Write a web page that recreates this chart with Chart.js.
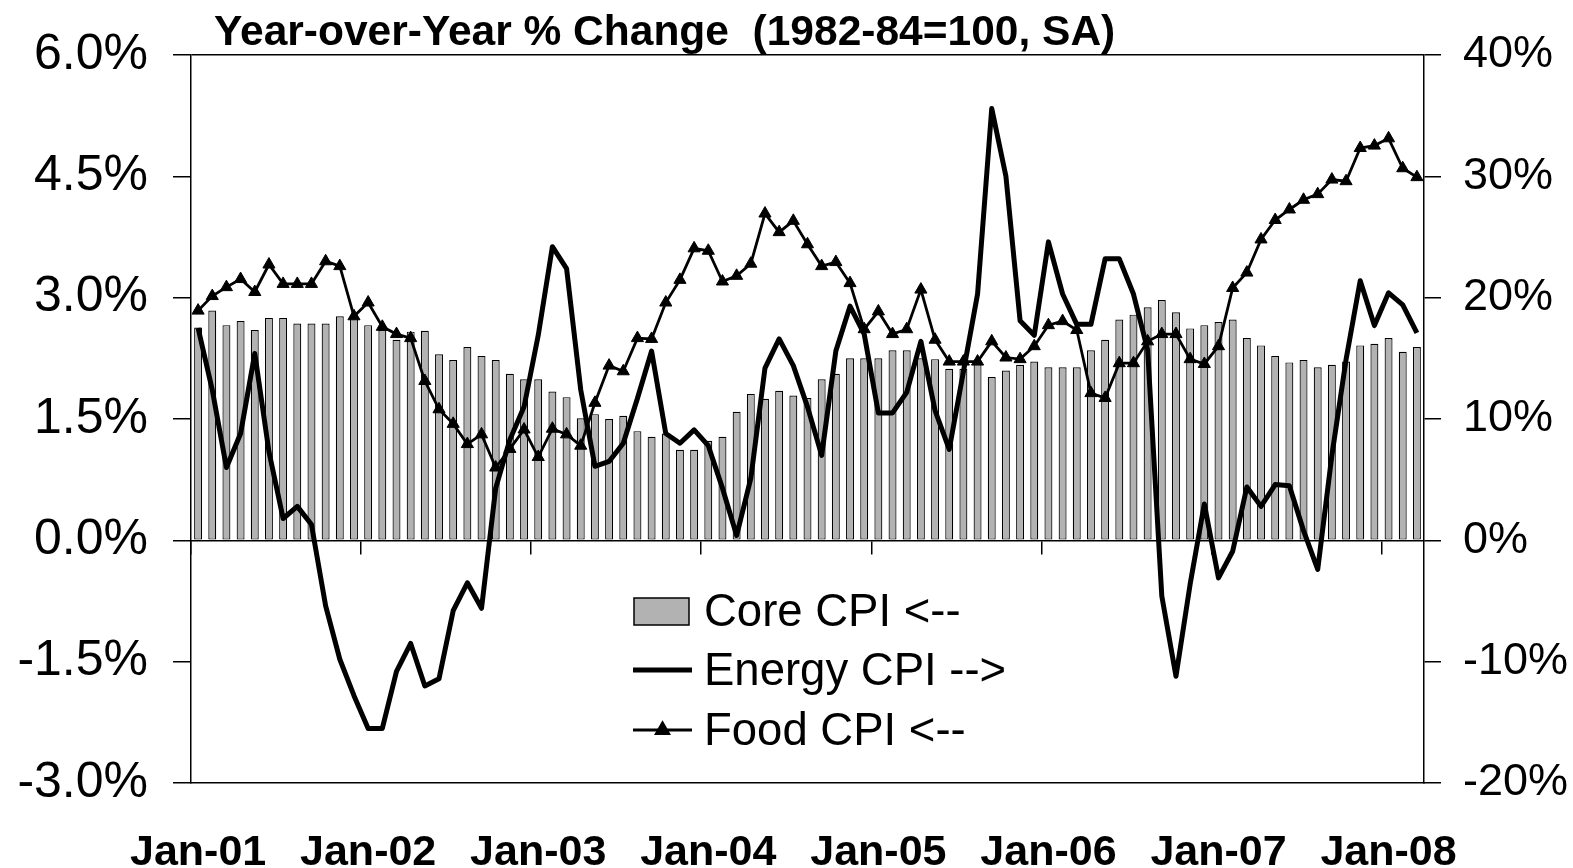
<!DOCTYPE html>
<html>
<head>
<meta charset="utf-8">
<script src="https://cdn.jsdelivr.net/npm/chart.js@4.4.1/dist/chart.umd.min.js"></script>
<style>
  html, body { margin: 0; padding: 0; background: #ffffff; }
  #wrap { width: 1573px; height: 868px; position: relative; }
  canvas { display: block; }
</style>
</head>
<body>
<div id="wrap"><canvas id="c" width="1573" height="868"></canvas></div>
<script>
// ---------------- DATA ----------------
const categories = [
  'Jan-01','Feb-01','Mar-01','Apr-01','May-01','Jun-01','Jul-01','Aug-01','Sep-01','Oct-01','Nov-01','Dec-01',
  'Jan-02','Feb-02','Mar-02','Apr-02','May-02','Jun-02','Jul-02','Aug-02','Sep-02','Oct-02','Nov-02','Dec-02',
  'Jan-03','Feb-03','Mar-03','Apr-03','May-03','Jun-03','Jul-03','Aug-03','Sep-03','Oct-03','Nov-03','Dec-03',
  'Jan-04','Feb-04','Mar-04','Apr-04','May-04','Jun-04','Jul-04','Aug-04','Sep-04','Oct-04','Nov-04','Dec-04',
  'Jan-05','Feb-05','Mar-05','Apr-05','May-05','Jun-05','Jul-05','Aug-05','Sep-05','Oct-05','Nov-05','Dec-05',
  'Jan-06','Feb-06','Mar-06','Apr-06','May-06','Jun-06','Jul-06','Aug-06','Sep-06','Oct-06','Nov-06','Dec-06',
  'Jan-07','Feb-07','Mar-07','Apr-07','May-07','Jun-07','Jul-07','Aug-07','Sep-07','Oct-07','Nov-07','Dec-07',
  'Jan-08','Feb-08','Mar-08'
];

// Core CPI, y/y % (left axis)
const coreCPI = [
  2.63, 2.84, 2.66, 2.71, 2.60, 2.75, 2.75, 2.68, 2.68, 2.68, 2.77, 2.75,
  2.66, 2.60, 2.48, 2.58, 2.59, 2.30, 2.23, 2.39, 2.28, 2.23, 2.06, 1.99,
  1.99, 1.84, 1.77, 1.51, 1.56, 1.50, 1.54, 1.35, 1.28, 1.32, 1.12, 1.12,
  1.23, 1.28, 1.59, 1.81, 1.75, 1.85, 1.79, 1.76, 1.99, 2.06, 2.25, 2.25,
  2.25, 2.35, 2.35, 2.25, 2.24, 2.12, 2.12, 2.19, 2.02, 2.10, 2.17, 2.21,
  2.14, 2.14, 2.14, 2.35, 2.48, 2.73, 2.79, 2.88, 2.97, 2.82, 2.62, 2.66,
  2.70, 2.73, 2.50, 2.41, 2.28, 2.20, 2.23, 2.14, 2.17, 2.21, 2.41, 2.43,
  2.50, 2.33, 2.39
];

// Energy CPI, y/y % (right axis)
const energyCPI = [
  17.5, 12.4, 6.0, 8.8, 15.4, 7.3, 1.8, 2.8, 1.3, -5.4, -9.8, -12.8,
  -15.5, -15.5, -10.8, -8.5, -12.0, -11.4, -5.8, -3.5, -5.6, 4.3, 8.3, 11.0,
  16.9, 24.2, 22.4, 12.4, 6.1, 6.5, 8.0, 11.7, 15.6, 8.8, 8.0, 9.1,
  7.8, 4.3, 0.4, 5.1, 14.2, 16.6, 14.4, 11.0, 7.0, 15.6, 19.3, 17.0,
  10.5, 10.5, 12.2, 16.4, 10.7, 7.5, 13.9, 20.3, 35.6, 30.0, 18.1, 16.9,
  24.6, 20.3, 17.8, 17.8, 23.2, 23.2, 20.3, 15.7, -4.6, -11.2, -3.6, 3.0,
  -3.1, -0.9, 4.4, 2.8, 4.6, 4.5, 0.8, -2.4, 7.0, 14.9, 21.4, 17.7,
  20.4, 19.4, 17.1
];

// Food CPI, y/y % (left axis)
const foodCPI = [
  2.84, 3.02, 3.13, 3.23, 3.07, 3.41, 3.17, 3.17, 3.17, 3.45, 3.39, 2.77,
  2.94, 2.64, 2.55, 2.50, 1.97, 1.62, 1.44, 1.19, 1.31, 0.90, 1.13, 1.37,
  1.03, 1.38, 1.31, 1.17, 1.70, 2.16, 2.09, 2.50, 2.49, 2.94, 3.22, 3.61,
  3.58, 3.20, 3.27, 3.42, 4.04, 3.81, 3.95, 3.66, 3.39, 3.44, 3.18, 2.61,
  2.83, 2.55, 2.61, 3.10, 2.48, 2.21, 2.21, 2.21, 2.46, 2.26, 2.24, 2.40,
  2.66, 2.71, 2.60, 1.82, 1.76, 2.19, 2.19, 2.46, 2.55, 2.55, 2.24, 2.18,
  2.40, 3.12, 3.31, 3.72, 3.96, 4.09, 4.21, 4.28, 4.46, 4.44, 4.85, 4.88,
  4.97, 4.60, 4.49
];

const seriesNames = ['Core CPI <--', 'Energy CPI -->', 'Food CPI <--'];
const xTickLabels = ['Jan-01','Jan-02','Jan-03','Jan-04','Jan-05','Jan-06','Jan-07','Jan-08'];
const leftTickValues = [-3.0, -1.5, 0.0, 1.5, 3.0, 4.5, 6.0];
const rightTickValues = [-20, -10, 0, 10, 20, 30, 40];
const chartTitle = 'Year-over-Year % Change  (1982-84=100, SA)';

// ---------------- STYLE ----------------
const FONT = "'Liberation Sans', Arial, Helvetica, sans-serif";
const BAR_FILL = '#b2b2b2';
const INK = '#000000';

// Title plugin (positioned text above the plot)
const titlePlugin = {
  id: 'titleText',
  afterDraw(chart) {
    const ctx = chart.ctx;
    ctx.save();
    ctx.font = 'bold 42.5px ' + FONT;
    ctx.fillStyle = INK;
    ctx.textAlign = 'left';
    ctx.textBaseline = 'alphabetic';
    ctx.fillText(chartTitle, 214, 45);
    ctx.restore();
  }
};

// Legend plugin (legend placed inside the plot area)
const legendPlugin = {
  id: 'innerLegend',
  afterDatasetsDraw(chart) {
    const ctx = chart.ctx;
    const ds = chart.data.datasets;
    const sx = 634, ex = 691, tx = 704;
    const rows = [611, 670, 730];
    ctx.save();
    // Core CPI swatch
    ctx.fillStyle = ds[0].backgroundColor;
    ctx.strokeStyle = INK;
    ctx.lineWidth = 1.5;
    ctx.fillRect(sx, rows[0] - 13, ex - sx - 2, 27);
    ctx.strokeRect(sx, rows[0] - 13, ex - sx - 2, 27);
    // Energy line
    ctx.beginPath();
    ctx.lineWidth = ds[1].borderWidth;
    ctx.moveTo(sx - 1, rows[1]);
    ctx.lineTo(ex + 1, rows[1]);
    ctx.stroke();
    // Food line + marker
    ctx.beginPath();
    ctx.lineWidth = ds[2].borderWidth;
    ctx.moveTo(sx - 1, rows[2]);
    ctx.lineTo(ex + 1, rows[2]);
    ctx.stroke();
    ctx.fillStyle = INK;
    Chart.helpers.drawPoint(ctx, {pointStyle: 'triangle', radius: ds[2].pointRadius, borderWidth: 1, rotation: 0}, (sx + ex) / 2, rows[2]);
    // Texts
    ctx.font = '45.5px ' + FONT;
    ctx.fillStyle = INK;
    ctx.textAlign = 'left';
    ctx.textBaseline = 'middle';
    for (let i = 0; i < 3; i++) ctx.fillText(ds[i].label, tx, rows[i] + 2);
    ctx.restore();
  }
};

const near = (a, b) => Math.abs(a - b) < 1e-6;

new Chart(document.getElementById('c'), {
  type: 'bar',
  data: {
    labels: categories,
    datasets: [
      {
        type: 'bar', label: seriesNames[0], data: coreCPI, yAxisID: 'y', xAxisID: 'x',
        backgroundColor: BAR_FILL, borderColor: INK, borderWidth: 1.2, borderSkipped: false,
        barPercentage: 0.56, categoryPercentage: 1.0, order: 3
      },
      {
        type: 'line', label: seriesNames[1], data: energyCPI, yAxisID: 'y2', xAxisID: 'x',
        borderColor: INK, backgroundColor: INK, borderWidth: 5, pointRadius: 0,
        tension: 0, borderJoinStyle: 'round', fill: false, order: 2
      },
      {
        type: 'line', label: seriesNames[2], data: foodCPI, yAxisID: 'y', xAxisID: 'x',
        borderColor: INK, backgroundColor: INK, borderWidth: 2.8,
        pointStyle: 'triangle', pointRadius: 7, pointBackgroundColor: INK,
        pointBorderColor: INK, pointBorderWidth: 1, tension: 0, fill: false, order: 1
      }
    ]
  },
  options: {
    responsive: false,
    animation: false,
    devicePixelRatio: 1,
    layout: { padding: { top: 55, left: 0, right: 0, bottom: 0 } },
    plugins: {
      legend: { display: false },
      title: { display: false },
      tooltip: { enabled: false }
    },
    scales: {
      x: {
        type: 'category', position: 'bottom', offset: true,
        grid: { display: true, offset: true, drawOnChartArea: false, drawTicks: false, color: 'transparent' },
        border: { display: true, color: INK, width: 1.5 },
        ticks: {
          autoSkip: false, maxRotation: 0, minRotation: 0, padding: 44,
          color: INK, font: { family: FONT, size: 43, weight: 'bold' },
          callback: function (v) {
            const lab = this.getLabelForValue(v);
            return xTickLabels.includes(lab) ? lab : '';
          }
        },
        afterFit: s => { s.height = 85; }
      },
      x2: {
        type: 'category', position: { y: 0 }, offset: true,
        grid: {
          display: true, offset: true, drawOnChartArea: false, drawTicks: true, tickLength: 13,
          color: 'transparent', lineWidth: 1.5, tickWidth: 1.5,
          tickColor: c => (c.index !== undefined && xTickLabels.includes(categories[c.index])) ? INK : 'transparent'
        },
        border: { display: true, color: INK, width: 1.5 },
        ticks: { display: false, autoSkip: false }
      },
      y: {
        type: 'linear', position: 'left', min: -3, max: 6,
        afterBuildTicks: s => { s.ticks = leftTickValues.map(v => ({ value: v })); },
        grid: {
          display: true, drawOnChartArea: true, drawTicks: true, tickLength: 18, lineWidth: 1.5,
          color: c => (c.tick && near(c.tick.value, 6)) ? INK : 'transparent',
          tickColor: INK
        },
        border: { display: true, color: INK, width: 1.5 },
        ticks: {
          padding: 25, color: INK, font: { family: FONT, size: 50 },
          callback: v => v.toFixed(1) + '%'
        },
        afterFit: s => { s.width = 191; }
      },
      y2: {
        type: 'linear', position: 'right', min: -20, max: 40,
        afterBuildTicks: s => { s.ticks = rightTickValues.map(v => ({ value: v })); },
        grid: {
          display: true, drawOnChartArea: false, drawTicks: true, tickLength: 17, lineWidth: 1.5,
          tickColor: INK
        },
        border: { display: true, color: INK, width: 1.5 },
        ticks: {
          padding: 22, color: INK, font: { family: FONT, size: 45 },
          callback: v => v + '%'
        },
        afterFit: s => { s.width = 149; }
      }
    }
  },
  plugins: [titlePlugin, legendPlugin]
});
</script>
</body>
</html>
